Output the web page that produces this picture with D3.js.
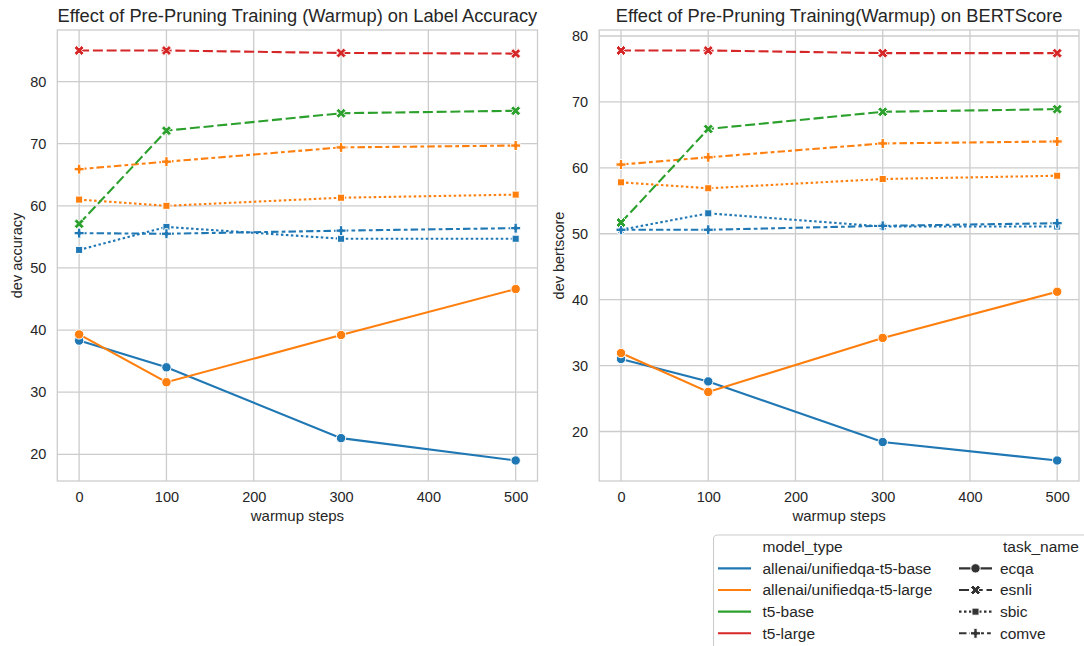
<!DOCTYPE html>
<html>
<head>
<meta charset="utf-8">
<script src="https://cdn.jsdelivr.net/npm/d3@7"></script>
<style>
  html, body { margin: 0; padding: 0; background: #ffffff; }
  svg { display: block; font-family: "Liberation Sans", Arial, sans-serif; }
</style>
</head>
<body>
<svg id="chart" width="1084" height="646"></svg>
<script>
// ---- data ----
const steps = [0, 100, 300, 500];
const xTicks = [0, 100, 200, 300, 400, 500];
const models = ["allenai/unifiedqa-t5-base", "allenai/unifiedqa-t5-large", "t5-base", "t5-large"];
const tasks = ["ecqa", "esnli", "sbic", "comve"];
const accTicks = [20, 30, 40, 50, 60, 70, 80];
const bertTicks = [20, 30, 40, 50, 60, 70, 80];

// dev accuracy by warmup step
const accBaseEcqa    = [38.3, 34.0, 22.6, 19.0];
const accBaseSbic    = [52.9, 56.6, 54.7, 54.7];
const accBaseComve   = [55.6, 55.5, 56.0, 56.4];
const accLargeEcqa   = [39.3, 31.6, 39.2, 46.6];
const accLargeSbic   = [61.0, 60.0, 61.3, 61.8];
const accLargeComve  = [65.9, 67.1, 69.4, 69.7];
const accT5BaseEsnli = [57.1, 72.1, 74.9, 75.3];
const accT5LargeEsnli= [85.0, 85.0, 84.6, 84.5];

// dev bertscore by warmup step
const bsBaseEcqa     = [31.0, 27.6, 18.4, 15.6];
const bsBaseSbic     = [50.6, 53.1, 51.1, 51.1];
const bsBaseComve    = [50.6, 50.6, 51.2, 51.6];
const bsLargeEcqa    = [31.9, 26.0, 34.2, 41.2];
const bsLargeSbic    = [57.8, 56.9, 58.3, 58.8];
const bsLargeComve   = [60.5, 61.6, 63.7, 64.0];
const bsT5BaseEsnli  = [51.7, 65.9, 68.5, 68.9];
const bsT5LargeEsnli = [77.8, 77.8, 77.4, 77.4];

const accSeries = [
  { model: models[0], task: "ecqa",  values: accBaseEcqa },
  { model: models[0], task: "sbic",  values: accBaseSbic },
  { model: models[0], task: "comve", values: accBaseComve },
  { model: models[1], task: "ecqa",  values: accLargeEcqa },
  { model: models[1], task: "sbic",  values: accLargeSbic },
  { model: models[1], task: "comve", values: accLargeComve },
  { model: models[2], task: "esnli", values: accT5BaseEsnli },
  { model: models[3], task: "esnli", values: accT5LargeEsnli }
];
const bsSeries = [
  { model: models[0], task: "ecqa",  values: bsBaseEcqa },
  { model: models[0], task: "sbic",  values: bsBaseSbic },
  { model: models[0], task: "comve", values: bsBaseComve },
  { model: models[1], task: "ecqa",  values: bsLargeEcqa },
  { model: models[1], task: "sbic",  values: bsLargeSbic },
  { model: models[1], task: "comve", values: bsLargeComve },
  { model: models[2], task: "esnli", values: bsT5BaseEsnli },
  { model: models[3], task: "esnli", values: bsT5LargeEsnli }
];

// ---- styles ----
const colors = d3.scaleOrdinal().domain(models).range(["#1f77b4", "#ff7f0e", "#2ca02c", "#d62728"]);
const dashes = { ecqa: null, esnli: "10,3.75", sbic: "2.5,2.5", comve: "7.5,3.1,3.75,3.1" };
const LW = 2.1, MS = 10, MEW = 1.0;
const TEXT = "#262626", GRID = "#cccccc";

// marker outlines, in units of the marker size (matplotlib-style)
function markerPath(task, s) {
  const poly = pts => "M" + pts.map(p => (p[0] * s).toFixed(2) + "," + (p[1] * s).toFixed(2)).join("L") + "Z";
  if (task === "ecqa") {
    const r = s * 0.47;
    return `M${r},0A${r},${r} 0 1,1 ${-r},0A${r},${r} 0 1,1 ${r},0Z`;
  }
  if (task === "esnli") {
    return poly([[-1,-2],[0,-1],[1,-2],[2,-1],[1,0],[2,1],[1,2],[0,1],[-1,2],[-2,1],[-1,0],[-2,-1]].map(p => [p[0]/4, p[1]/4]));
  }
  if (task === "sbic") {
    const h = 0.5 / Math.SQRT2;
    return poly([[-h,-h],[h,-h],[h,h],[-h,h]]);
  }
  return poly([[-1,-3],[1,-3],[1,-1],[3,-1],[3,1],[1,1],[1,3],[-1,3],[-1,1],[-3,1],[-3,-1],[-1,-1]].map(p => [p[0]/6, p[1]/6]));
}

const svg = d3.select("#chart");

function paddedDomain(series) {
  const all = series.flatMap(s => s.values);
  const [lo, hi] = d3.extent(all);
  const pad = (hi - lo) * 0.05;
  return [lo - pad, hi + pad];
}

function drawPanel(opt) {
  const { left, right, top, bottom, series, yTicks, title, yLabel } = opt;
  const g = svg.append("g");
  const x = d3.scaleLinear()
    .domain([steps[0] - (steps[3] - steps[0]) * 0.05, steps[3] + (steps[3] - steps[0]) * 0.05])
    .range([left, right]);
  const y = d3.scaleLinear().domain(paddedDomain(series)).range([bottom, top]);

  // grid
  g.append("g").selectAll("line").data(xTicks).join("line")
    .attr("x1", d => x(d)).attr("x2", d => x(d)).attr("y1", top).attr("y2", bottom)
    .attr("stroke", GRID).attr("stroke-width", 1.3);
  g.append("g").selectAll("line").data(yTicks).join("line")
    .attr("x1", left).attr("x2", right).attr("y1", d => y(d)).attr("y2", d => y(d))
    .attr("stroke", GRID).attr("stroke-width", 1.3);

  // axes (tick labels only, whitegrid style)
  const xAxis = g.append("g").attr("transform", `translate(0,${bottom})`)
    .call(d3.axisBottom(x).tickValues(xTicks).tickSize(0).tickPadding(11));
  const yAxis = g.append("g").attr("transform", `translate(${left},0)`)
    .call(d3.axisLeft(y).tickValues(yTicks).tickSize(0).tickPadding(11));
  [xAxis, yAxis].forEach(a => {
    a.select(".domain").remove();
    a.selectAll("text").attr("fill", TEXT).style("font-size", "14.5px")
      .style("font-family", '"Liberation Sans", Arial, sans-serif');
  });

  // frame
  g.append("rect").attr("x", left).attr("y", top)
    .attr("width", right - left).attr("height", bottom - top)
    .attr("fill", "none").attr("stroke", GRID).attr("stroke-width", 1.3);

  // lines
  const line = d3.line().x((d, i) => x(steps[i])).y(d => y(d));
  series.forEach(s => {
    g.append("path").datum(s.values)
      .attr("d", line)
      .attr("fill", "none")
      .attr("stroke", colors(s.model))
      .attr("stroke-width", LW)
      .attr("stroke-dasharray", dashes[s.task]);
  });
  // markers
  series.forEach(s => {
    g.append("g").selectAll("path").data(s.values).join("path")
      .attr("transform", (d, i) => `translate(${x(steps[i])},${y(d)})`)
      .attr("d", markerPath(s.task, MS))
      .attr("fill", colors(s.model))
      .attr("stroke", "#ffffff").attr("stroke-width", MEW);
  });

  // titles
  g.append("text").attr("x", (left + right) / 2).attr("y", 22)
    .attr("text-anchor", "middle").attr("fill", TEXT).style("font-size", "18.3px").text(title);
  g.append("text").attr("x", (left + right) / 2).attr("y", 521)
    .attr("text-anchor", "middle").attr("fill", TEXT).style("font-size", "15px").text("warmup steps");
  g.append("text")
    .attr("transform", `translate(${left - 35},${(top + bottom) / 2}) rotate(-90)`)
    .attr("text-anchor", "middle").attr("fill", TEXT).style("font-size", "14.5px").text(yLabel);
}

drawPanel({ left: 57.3, right: 537.5, top: 30, bottom: 481, series: accSeries, yTicks: accTicks,
  title: "Effect of Pre-Pruning Training (Warmup) on Label Accuracy", yLabel: "dev accuracy" });
drawPanel({ left: 599.2, right: 1079, top: 30, bottom: 481, series: bsSeries, yTicks: bertTicks,
  title: "Effect of Pre-Pruning Training(Warmup) on BERTScore", yLabel: "dev bertscore" });

// ---- legend ----
const lg = svg.append("g");
lg.append("rect").attr("x", 713.5).attr("y", 535).attr("width", 400).attr("height", 140)
  .attr("rx", 4).attr("fill", "#ffffff").attr("fill-opacity", 0.8)
  .attr("stroke", GRID).attr("stroke-width", 1.1);
const rowY = i => 546.7 + i * 21.65;
const legendFont = "15.5px";
const col1 = { h0: 718, h1: 751, tx: 762.5 };
const col2 = { h0: 959, h1: 992, tx: 1000 };

lg.append("text").attr("x", col1.tx).attr("y", rowY(0)).attr("dy", "0.35em")
  .attr("fill", TEXT).style("font-size", legendFont).text("model_type");
models.forEach((m, i) => {
  lg.append("line").attr("x1", col1.h0).attr("x2", col1.h1).attr("y1", rowY(i + 1)).attr("y2", rowY(i + 1))
    .attr("stroke", colors(m)).attr("stroke-width", LW);
  lg.append("text").attr("x", col1.tx).attr("y", rowY(i + 1)).attr("dy", "0.35em")
    .attr("fill", TEXT).style("font-size", legendFont).text(m);
});

lg.append("text").attr("x", col2.tx + 3).attr("y", rowY(0)).attr("dy", "0.35em")
  .attr("fill", TEXT).style("font-size", legendFont).text("task_name");
tasks.forEach((t, i) => {
  const cy = rowY(i + 1);
  lg.append("line").attr("x1", col2.h0).attr("x2", col2.h1).attr("y1", cy).attr("y2", cy)
    .attr("stroke", "#333333").attr("stroke-width", LW).attr("stroke-dasharray", dashes[t]);
  lg.append("path").attr("transform", `translate(${(col2.h0 + col2.h1) / 2},${cy})`)
    .attr("d", markerPath(t, MS)).attr("fill", "#333333")
    .attr("stroke", "#ffffff").attr("stroke-width", MEW);
  lg.append("text").attr("x", col2.tx).attr("y", cy).attr("dy", "0.35em")
    .attr("fill", TEXT).style("font-size", legendFont).text(t);
});
</script>
</body>
</html>
